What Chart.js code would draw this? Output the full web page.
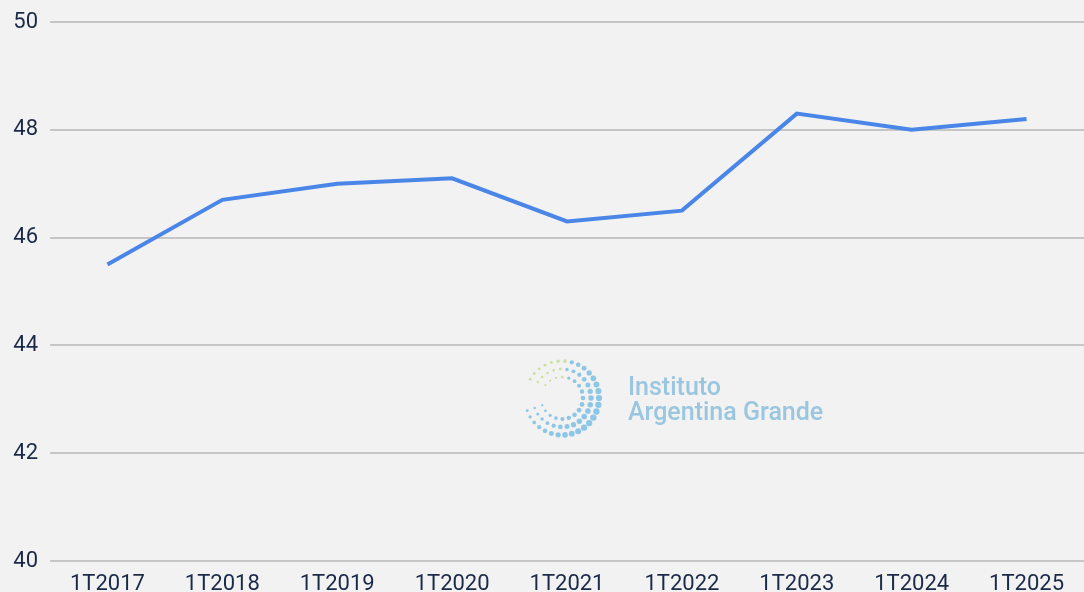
<!DOCTYPE html>
<html>
<head>
<meta charset="utf-8">
<script src="https://cdn.jsdelivr.net/npm/chart.js@4"></script>
<style>
  html, body { margin: 0; padding: 0; background: #f2f2f2; }
  #wrap { width: 1084px; height: 592px; position: relative; }
</style>
</head>
<body>
<div id="wrap"><canvas id="graficoSerie"></canvas></div>
<script>
// Datos del gráfico
const periodos = ['1T2017', '1T2018', '1T2019', '1T2020', '1T2021', '1T2022', '1T2023', '1T2024', '1T2025'];
const valores = [45.5, 46.7, 47.0, 47.1, 46.3, 46.5, 48.3, 48.0, 48.2];
const ejeY = [40, 42, 44, 46, 48, 50];

// Marca de agua (logo punteado + texto)
const marcaAgua = {
    id: 'marcaAgua',
    beforeDatasetsDraw(chart) {
        const ctx = chart.ctx;
        ctx.save();
        const cx = 562, cy = 398;
        const anillos = [
            { r: 37, n: 30, s: 3.2, verde: 0.15 },
            { r: 29, n: 24, s: 2.8, verde: 0.45 },
            { r: 21, n: 18, s: 2.4, verde: 0.7 }
        ];
        anillos.forEach((a) => {
            for (let i = 0; i < a.n; i++) {
                const t = i / a.n;
                const grados = 160 - t * 320;
                const ang = grados * Math.PI / 180;
                const x = cx + Math.cos(ang) * a.r;
                const y = cy + Math.sin(ang) * a.r;
                const size = a.s * (0.45 + 0.55 * Math.sin(Math.PI * Math.min(1, t * 1.2)));
                // azul a la derecha y abajo, verde arriba a la izquierda
                const esVerde = grados < -80 && t > 1 - a.verde - 0.2;
                ctx.fillStyle = esVerde ? 'rgba(200,222,150,0.9)' : 'rgba(125,190,228,0.85)';
                ctx.beginPath();
                ctx.arc(x, y, Math.max(size, 1), 0, Math.PI * 2);
                ctx.fill();
            }
        });
        ctx.fillStyle = '#9ac6e0';
        ctx.font = '500 25px Roboto';
        ctx.textBaseline = 'alphabetic';
        ctx.fillText('Instituto', 628, 395);
        ctx.fillText('Argentina Grande', 628, 420);
        ctx.restore();
    }
};

const ctx = document.getElementById('graficoSerie').getContext('2d');

const config = {
    type: 'line',
    data: {
        labels: periodos,
        datasets: [
            {
                label: 'Serie',
                data: valores,
                borderColor: '#4a86e8',
                backgroundColor: '#4a86e8',
                borderWidth: 4,
                pointRadius: 0,
                tension: 0,
                fill: false
            }
        ]
    },
    options: {
        responsive: true,
        maintainAspectRatio: false,
        animation: false,
        layout: {
            padding: { top: 22, right: 0, bottom: 0, left: 0 }
        },
        plugins: {
            legend: { display: false },
            tooltip: { enabled: false }
        },
        scales: {
            x: {
                offset: true,
                grid: { display: false },
                border: { display: false },
                ticks: {
                    color: '#1a2a48',
                    font: { family: 'Roboto', size: 22 },
                    padding: 2,
                    maxRotation: 0,
                    autoSkip: false
                },
                afterFit: (scale) => { scale.height = 31; }
            },
            y: {
                min: 40,
                max: 50,
                afterBuildTicks: (scale) => {
                    scale.ticks = ejeY.map(v => ({ value: v }));
                },
                grid: {
                    color: '#c6c6c6',
                    lineWidth: 2,
                    drawTicks: false
                },
                border: { display: false },
                ticks: {
                    color: '#1a2a48',
                    font: { family: 'Roboto', size: 22 },
                    padding: 12
                },
                afterFit: (scale) => {
                    scale.width = 50;
                    scale.paddingTop = 0;
                    scale.paddingBottom = 0;
                }
            }
        }
    },
    plugins: [marcaAgua]
};

const grafico = new Chart(ctx, config);
</script>
</body>
</html>
